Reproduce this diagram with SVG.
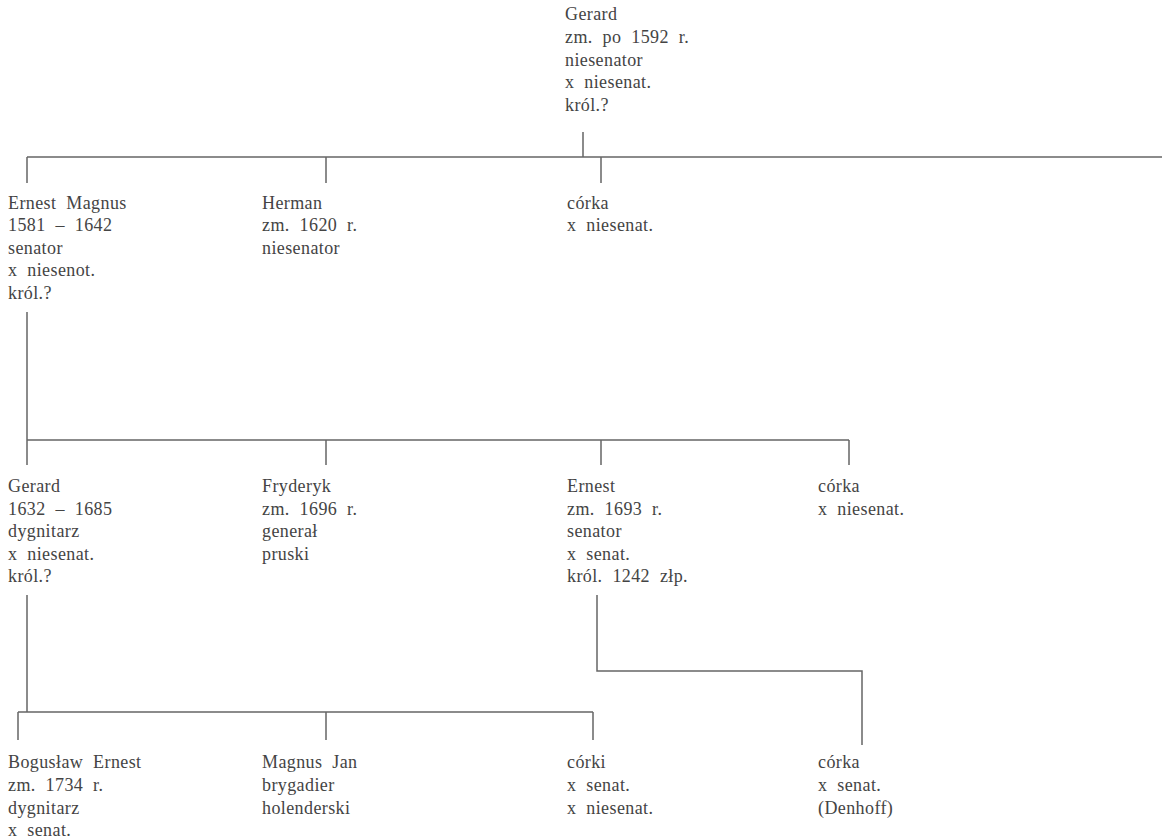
<svg xmlns="http://www.w3.org/2000/svg" width="1162" height="840" viewBox="0 0 1162 840">
<style>
text{font-family:"Liberation Serif","Times New Roman",serif;font-size:18px;fill:#444;word-spacing:5px;letter-spacing:0.4px}
.c{fill:none;stroke:#666;stroke-width:1.5}
</style>
<rect width="1162" height="840" fill="#fff"/>
<g id="connectors">
<path class="c" d="M583,132V157M27,157H1162M27,157V183M326,157V183M601,157V183"/>
<path class="c" d="M27,312V465M27,440H849M326,440V465M601,440V465M849,440V465"/>
<path class="c" d="M27,595V712M18,712H593M18,712V740M326,712V740M593,712V740"/>
<path class="c" d="M597,595V671H862V745"/>
</g>
<g id="n-gerard"><text x="565" y="20">Gerard</text><text x="565" y="43">zm. po 1592 r.</text><text x="565" y="66">niesenator</text><text x="565" y="88">x niesenat.</text><text x="565" y="111">król.?</text></g>
<g id="n-ernest-magnus"><text x="8" y="209">Ernest Magnus</text><text x="8" y="231">1581 – 1642</text><text x="8" y="254">senator</text><text x="8" y="276">x niesenot.</text><text x="8" y="299">król.?</text></g>
<g id="n-herman"><text x="262" y="209">Herman</text><text x="262" y="231">zm. 1620 r.</text><text x="262" y="254">niesenator</text></g>
<g id="n-corka1"><text x="567" y="209">córka</text><text x="567" y="231">x niesenat.</text></g>
<g id="n-gerard2"><text x="8" y="492">Gerard</text><text x="8" y="515">1632 – 1685</text><text x="8" y="537">dygnitarz</text><text x="8" y="560">x niesenat.</text><text x="8" y="582">król.?</text></g>
<g id="n-fryderyk"><text x="262" y="492">Fryderyk</text><text x="262" y="515">zm. 1696 r.</text><text x="262" y="537">generał</text><text x="262" y="560">pruski</text></g>
<g id="n-ernest"><text x="567" y="492">Ernest</text><text x="567" y="515">zm. 1693 r.</text><text x="567" y="537">senator</text><text x="567" y="560">x senat.</text><text x="567" y="582">król. 1242 złp.</text></g>
<g id="n-corka2"><text x="818" y="492">córka</text><text x="818" y="515">x niesenat.</text></g>
<g id="n-boguslaw"><text x="8" y="768">Bogusław Ernest</text><text x="8" y="791">zm. 1734 r.</text><text x="8" y="814">dygnitarz</text><text x="8" y="836">x senat.</text></g>
<g id="n-magnus-jan"><text x="262" y="768">Magnus Jan</text><text x="262" y="791">brygadier</text><text x="262" y="814">holenderski</text></g>
<g id="n-corki"><text x="567" y="768">córki</text><text x="567" y="791">x senat.</text><text x="567" y="814">x niesenat.</text></g>
<g id="n-corka3"><text x="818" y="768">córka</text><text x="818" y="791">x senat.</text><text x="818" y="814">(Denhoff)</text></g>
</svg>
